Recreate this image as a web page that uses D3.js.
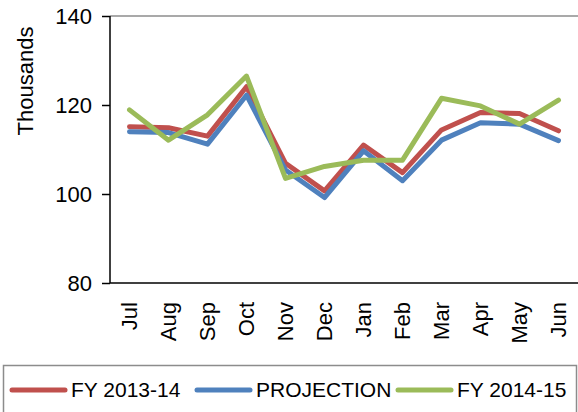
<!DOCTYPE html>
<html>
<head>
<meta charset="utf-8">
<script src="https://cdn.jsdelivr.net/npm/d3@7"></script>
<style>
  body { margin: 0; background: #fff; }
  svg { display: block; font-family: "Liberation Sans", Arial, sans-serif; }
</style>
</head>
<body>
<div class="chart_view"></div>
<script>
var months = ["Jul", "Aug", "Sep", "Oct", "Nov", "Dec", "Jan", "Feb", "Mar", "Apr", "May", "Jun"];
var fy1314 = [115.1, 114.9, 113.0, 124.1, 106.9, 100.7, 111.0, 104.8, 114.4, 118.3, 118.1, 114.2];
var projection = [114.0, 113.8, 111.2, 122.2, 105.4, 99.2, 109.7, 103.0, 112.1, 116.0, 115.7, 112.0];
var fy1415 = [118.9, 112.1, 117.8, 126.5, 103.5, 106.2, 107.6, 107.6, 121.5, 119.8, 115.7, 121.1];
var yTicks = [80, 100, 120, 140];

var series = [
  { name: "FY 2013-14", values: fy1314, color: "#C0504D" },
  { name: "PROJECTION", values: projection, color: "#4F81BD" },
  { name: "FY 2014-15", values: fy1415, color: "#9BBB59" }
];

var width = 578, height = 412;
// plot area (window.top is reserved, so use a margin object)
var plot = { left: 110, right: 578, top: 16, bottom: 283 };

var svg = d3.select(".chart_view")
  .append("svg")
  .attr("width", width)
  .attr("height", height);

var x = d3.scalePoint().domain(months).range([plot.left, plot.right]).padding(0.5);
var y = d3.scaleLinear().domain([80, 140]).range([plot.bottom, plot.top]);

// top gridline only
svg.append("line")
  .attr("x1", plot.left).attr("x2", plot.right)
  .attr("y1", y(140)).attr("y2", y(140))
  .style("stroke", "#8c8c8c")
  .style("stroke-width", "1.5px");

// y axis
var yAxis = svg.append("g")
  .attr("transform", "translate(" + plot.left + ",0)")
  .call(d3.axisLeft(y).tickValues(yTicks).tickSize(8).tickPadding(10));
yAxis.select(".domain").remove();
yAxis.selectAll(".tick line").style("stroke", "#000").style("stroke-width", "1.5px");
yAxis.selectAll(".tick text")
  .style("font-size", "22px")
  .style("font-family", "'Liberation Sans', Arial, sans-serif")
  .style("fill", "#000");

svg.append("line")
  .attr("x1", plot.left).attr("x2", plot.left)
  .attr("y1", plot.top).attr("y2", plot.bottom)
  .style("stroke", "#000").style("stroke-width", "1.5px");

// x axis
svg.append("line")
  .attr("x1", plot.left).attr("x2", plot.right)
  .attr("y1", plot.bottom).attr("y2", plot.bottom)
  .style("stroke", "#000").style("stroke-width", "1.5px");

svg.selectAll(".month")
  .data(months)
  .enter()
  .append("text")
  .attr("class", "month")
  .attr("transform", function (d) {
    return "translate(" + x(d) + "," + (plot.bottom + 19) + ") rotate(-90)";
  })
  .attr("dy", "0.35em")
  .attr("text-anchor", "end")
  .style("font-size", "22px")
  .text(function (d) { return d; });

svg.append("text")
  .attr("transform", "translate(33,81) rotate(-90)")
  .attr("text-anchor", "middle")
  .style("font-size", "22px")
  .text("Thousands");

// lines
var line = d3.line()
  .x(function (d, i) { return x(months[i]); })
  .y(function (d) { return y(d); });

svg.selectAll(".series")
  .data(series)
  .enter()
  .append("path")
  .attr("class", "series")
  .attr("d", function (d) { return line(d.values); })
  .style("fill", "none")
  .style("stroke", function (d) { return d.color; })
  .style("stroke-width", "5px")
  .style("stroke-linejoin", "round")
  .style("stroke-linecap", "round");

// legend
svg.append("rect")
  .attr("x", 3.5).attr("y", 365.5)
  .attr("width", 573).attr("height", 60)
  .style("fill", "none")
  .style("stroke", "#8c8c8c")
  .style("stroke-width", "1.5px");

var legendX = [12, 197, 398];
var legend = svg.selectAll(".legend")
  .data(series)
  .enter()
  .append("g")
  .attr("class", "legend")
  .attr("transform", function (d, i) { return "translate(" + legendX[i] + ",390)"; });

legend.append("line")
  .attr("x1", 0).attr("x2", 53)
  .style("stroke", function (d) { return d.color; })
  .style("stroke-width", "5px")
  .style("stroke-linecap", "round");

legend.append("text")
  .attr("x", 59)
  .attr("dy", "0.35em")
  .style("font-size", "21px")
  .text(function (d) { return d.name; });
</script>
</body>
</html>
